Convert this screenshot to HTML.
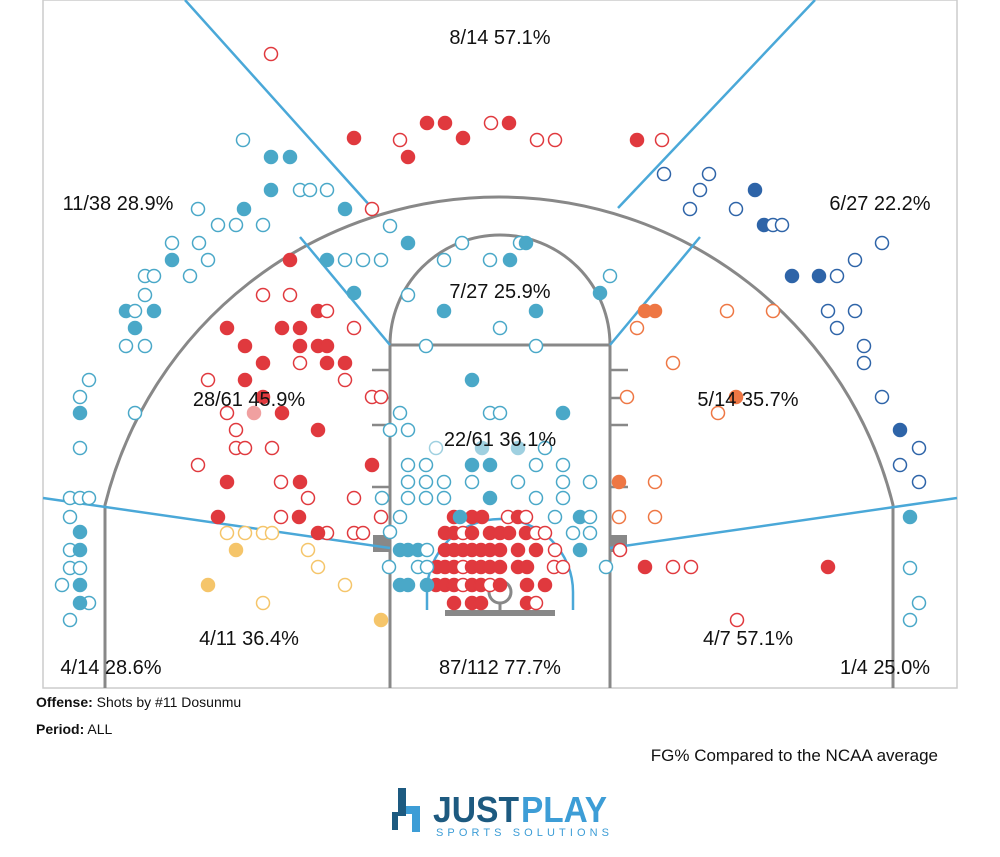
<!DOCTYPE html>
<html><head><meta charset="utf-8"><style>
body{margin:0;background:#fff;width:1000px;height:857px;overflow:hidden;font-family:"Liberation Sans",sans-serif;}
svg{position:absolute;left:0;top:0}
</style></head><body>
<svg id="s" width="1000" height="857" viewBox="0 0 1000 857" xmlns="http://www.w3.org/2000/svg">
<rect x="43" y="0" width="914" height="688" fill="none" stroke="#ccc" stroke-width="1.5"/>
<g stroke="#888" stroke-width="3" fill="none">
<path d="M105,688 L105,505 A406,406 0 0 1 893,505 L893,688"/>
<path d="M390,688 L390,345 L610,345 L610,688"/>
<path d="M390,345 A110,110 0 0 1 610,345"/>
<path d="M372,370h18M372,398h18M372,425h18M372,487h18M610,370h18M610,398h18M610,425h18M610,487h18" stroke-width="2.5"/>
<circle cx="500" cy="592" r="11"/>
<path d="M500,603v10"/>
</g>
<rect x="445" y="610" width="110" height="6" fill="#888"/>
<rect x="373" y="535" width="17" height="17" fill="#888"/>
<rect x="610" y="535" width="17" height="17" fill="#888"/>
<g stroke="#4aa8d8" stroke-width="2.5" fill="none">
<path d="M185,0 L372,208"/><path d="M815,0 L618,208"/>
<path d="M300,237 L390,345"/><path d="M700,237 L610,345"/>
<path d="M43,498 L390,548"/><path d="M610,548 L957,498"/>
<path d="M427,610 L427,592 A73,73 0 0 1 573,592 L573,610"/>
</g>
<g id="dots"></g>
<g font-size="20" fill="#111" text-anchor="middle">
<text x="500" y="44">8/14 57.1%</text>
<text x="118" y="210">11/38 28.9%</text>
<text x="880" y="210">6/27 22.2%</text>
<text x="500" y="298">7/27 25.9%</text>
<text x="249" y="406">28/61 45.9%</text>
<text x="748" y="406">5/14 35.7%</text>
<text x="500" y="446">22/61 36.1%</text>
<text x="249" y="645">4/11 36.4%</text>
<text x="748" y="645">4/7 57.1%</text>
<text x="111" y="674">4/14 28.6%</text>
<text x="500" y="674">87/112 77.7%</text>
<text x="885" y="674">1/4 25.0%</text>
</g>
<g font-size="14" fill="#111">
<text x="36" y="707"><tspan font-weight="bold">Offense:</tspan> Shots by #11 Dosunmu</text>
<text x="36" y="734"><tspan font-weight="bold">Period:</tspan> ALL</text>
<text x="938" y="761" font-size="17" text-anchor="end">FG% Compared to the NCAA average</text>
</g>
<g>
<path d="M398,788h8v28h-8z" fill="#1d5a80"/>
<path d="M406,806h14v26h-8v-18h-6z" fill="#3d9dd6"/>
<path d="M392,812h6v18h-6z" fill="#1d5a80"/>
<text x="433" y="822" font-size="36" font-weight="bold" fill="#1d5a80" textLength="86" lengthAdjust="spacingAndGlyphs">JUST</text>
<text x="521" y="822" font-size="36" font-weight="bold" fill="#3d9dd6" textLength="86" lengthAdjust="spacingAndGlyphs">PLAY</text>
<text x="436" y="836" font-size="11" fill="#3d9dd6" textLength="173" lengthAdjust="spacing">SPORTS SOLUTIONS</text>
</g>
</svg>
<script>
var C={r:"#e0393e",b:"#4aa8c8",d:"#2e64a8",o:"#ee7744",y:"#f5c56a",p:"#f0a0a0",l:"#9fd0e0"};
var D=[
["r",[[271,54,0],[354,138,1],[400,140,0],[408,157,1],[427,123,1],[445,123,1],[463,138,1],[491,123,0],[509,123,1],[537,140,0],[555,140,0],[637,140,1],[662,140,0],[372,209,0],
[290,260,1],[263,295,0],[290,295,0],[318,311,1],[327,311,0],[227,328,1],[282,328,1],[300,328,1],[354,328,0],[245,346,1],[300,346,1],[318,346,1],[327,346,1],[263,363,1],[300,363,0],[327,363,1],[345,363,1],[208,380,0],[245,380,1],[345,380,0],[263,397,1],[372,397,0],[381,397,0],[227,413,0],[282,413,1],[236,430,0],[318,430,1],[236,448,0],[245,448,0],[272,448,0],[198,465,0],[372,465,1],[300,482,1],[227,482,1],[281,482,0],[354,498,0],[308,498,0],[218,517,1],[281,517,0],[299,517,1],[327,533,0],[318,533,1],[354,533,0],[363,533,0],[381,517,0],
[454,517,1],[472,517,1],[482,517,1],[508,517,0],[518,517,1],[526,517,0],
[445,533,1],[454,533,1],[463,533,0],[472,533,1],[490,533,1],[500,533,1],[509,533,1],[526,533,1],[536,533,0],[545,533,0],
[445,550,1],[454,550,1],[463,550,1],[472,550,1],[481,550,1],[490,550,1],[500,550,1],[518,550,1],[536,550,1],[555,550,0],
[437,567,1],[445,567,1],[454,567,1],[463,567,0],[472,567,1],[481,567,1],[490,567,1],[500,567,1],[518,567,1],[527,567,1],[554,567,0],[563,567,0],
[436,585,1],[445,585,1],[454,585,1],[463,585,0],[472,585,1],[481,585,1],[490,585,0],[500,585,1],[527,585,1],[545,585,1],
[454,603,1],[472,603,1],[481,603,1],[527,603,1],[536,603,0],
[620,550,0],[645,567,1],[673,567,0],[691,567,0],[828,567,1],[737,620,0]]],
["p",[[254,413,1]]],
["b",[[243,140,0],[271,157,1],[290,157,1],[271,190,1],[300,190,0],[310,190,0],[327,190,0],[198,209,0],[244,209,1],[345,209,1],[218,225,0],[236,225,0],[263,225,0],[172,243,0],[199,243,0],[172,260,1],[208,260,0],[145,276,0],[154,276,0],[190,276,0],[145,295,0],[126,311,1],[135,311,0],[154,311,1],[135,328,1],[126,346,0],[145,346,0],[89,380,0],[80,397,0],[80,413,1],[135,413,0],[80,448,0],[70,498,0],[80,498,0],[89,498,0],[70,517,0],[80,532,1],[70,550,0],[80,550,1],[70,568,0],[80,568,0],[62,585,0],[80,585,1],[89,603,0],[80,603,1],[70,620,0],
[390,226,0],[408,243,1],[462,243,0],[520,243,0],[526,243,1],[327,260,1],[345,260,0],[363,260,0],[381,260,0],[444,260,0],[490,260,0],[510,260,1],[610,276,0],[354,293,1],[408,295,0],[600,293,1],[444,311,1],[500,328,0],[536,311,1],[426,346,0],[536,346,0],[472,380,1],[400,413,0],[490,413,0],[500,413,0],[563,413,1],[390,430,0],[408,430,0],[545,448,0],[408,465,0],[426,465,0],[472,465,1],[490,465,1],[536,465,0],[563,465,0],[408,482,0],[426,482,0],[444,482,0],[472,482,0],[518,482,0],[563,482,0],[590,482,0],[382,498,0],[408,498,0],[426,498,0],[444,498,0],[490,498,1],[536,498,0],[563,498,0],[400,517,0],[390,532,0],[460,517,1],[555,517,0],[580,517,1],[590,517,0],[573,533,0],[590,533,0],[580,550,1],[606,567,0],[400,550,1],[408,550,1],[418,550,1],[427,550,0],[389,567,0],[418,567,0],[427,567,0],[400,585,1],[408,585,1],[427,585,1],
[910,517,1],[910,568,0],[919,603,0],[910,620,0]]],
["l",[[436,448,0],[482,448,1],[518,448,1]]],
["y",[[245,533,0],[263,533,0],[272,533,0],[227,533,0],[236,550,1],[308,550,0],[318,567,0],[345,585,0],[208,585,1],[263,603,0],[381,620,1]]],
["o",[[645,311,1],[655,311,1],[637,328,0],[727,311,0],[773,311,0],[673,363,0],[627,397,0],[718,413,0],[736,397,1],[619,482,1],[655,482,0],[619,517,0],[655,517,0]]],
["d",[[664,174,0],[709,174,0],[700,190,0],[755,190,1],[690,209,0],[736,209,0],[764,225,1],[773,225,0],[782,225,0],[882,243,0],[855,260,0],[792,276,1],[819,276,1],[837,276,0],[828,311,0],[855,311,0],[837,328,0],[864,346,0],[864,363,0],[882,397,0],[900,430,1],[919,448,0],[900,465,0],[919,482,0]]]
];
var g=document.getElementById("dots"),h="";
D.forEach(function(s){var c=C[s[0]];s[1].forEach(function(p){
h+='<circle cx="'+p[0]+'" cy="'+p[1]+'" r="6.5" fill="'+(p[2]?c:"#fff")+'" stroke="'+c+'" stroke-width="1.5"/>';});});
g.innerHTML=h;
</script>
</body></html>
